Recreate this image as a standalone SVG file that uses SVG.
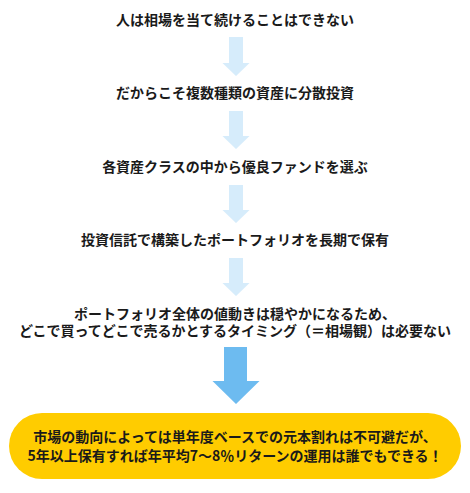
<svg xmlns="http://www.w3.org/2000/svg" width="470" height="493" viewBox="0 0 470 493">
<style>
.t{font-family:"Noto Sans CJK JP","Noto Sans",sans-serif;font-weight:bold;font-size:14px;fill:#1a1a1a;text-anchor:middle}
.a{fill:#d6ecfb}
.b{fill:#6dbbf0}
</style>
<rect width="470" height="493" fill="#ffffff"/>
<g id="connectors">
<polygon class="a" points="229,37 243,37 243,63 249.5,63 236,76 222.5,63 229,63"/>
<polygon class="a" points="229,111 243,111 243,136 249.5,136 236,149 222.5,136 229,136"/>
<polygon class="a" points="229,185 243,185 243,210 249.5,210 236,223 222.5,210 229,210"/>
<polygon class="a" points="229,258 243,258 243,283 249.5,283 236,296 222.5,283 229,283"/>
<polygon class="b" points="224,347 247,347 247,381 259.5,381 236,404 212.5,381 224,381"/>
</g>
<g id="n1"><text class="t" x="235" y="25">人は相場を当て続けることはできない</text></g>
<g id="n2"><text class="t" x="235" y="98">だからこそ複数種類の資産に分散投資</text></g>
<g id="n3"><text class="t" x="235" y="172">各資産クラスの中から優良ファンドを選ぶ</text></g>
<g id="n4"><text class="t" x="235" y="245">投資信託で構築したポートフォリオを長期で保有</text></g>
<g id="n5">
<text class="t" x="235" y="318.5">ポートフォリオ全体の値動きは穏やかになるため、</text>
<text class="t" x="235" y="335.5">どこで買ってどこで売るかとするタイミング（＝相場観）は必要ない</text>
</g>
<g id="n6">
<rect x="9" y="413" width="452" height="66" rx="33" ry="33" fill="#ffcc00"/>
<text class="t" x="235" y="442">市場の動向によっては単年度ベースでの元本割れは不可避だが、</text>
<text class="t" x="235" y="461">5年以上保有すれば年平均7～8％リターンの運用は誰でもできる！</text>
</g>
</svg>
